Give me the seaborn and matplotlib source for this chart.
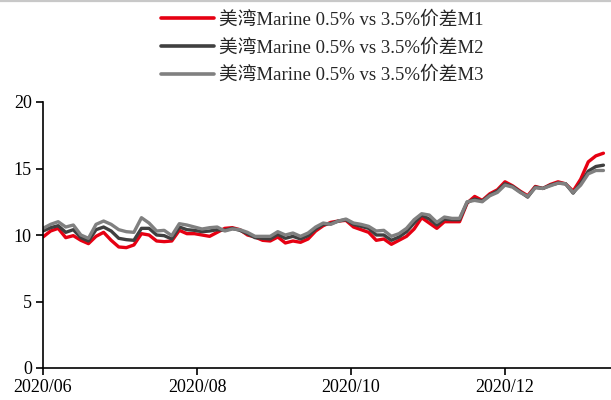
import numpy as np
import pandas as pd
import matplotlib
matplotlib.use("Agg")
import matplotlib.pyplot as plt
import matplotlib.dates as mdates
import seaborn as sns

# Sampling dates (every 3 days from 2020-06-01)
start_date = "2020-06-01"
n_points = 75
step = "3D"

# 美湾 Marine 0.5% vs 3.5% spread, three contract months
m1 = [9.85, 10.3, 10.5, 9.8, 9.95, 9.6, 9.35, 9.9, 10.2, 9.6,
      9.1, 9.05, 9.25, 10.1, 10.0, 9.55, 9.5, 9.55, 10.35, 10.1,
      10.1, 10.0, 9.9, 10.2, 10.5, 10.55, 10.4, 10.0, 9.85, 9.6,
      9.55, 9.85, 9.4, 9.55, 9.45, 9.7, 10.3, 10.7, 10.95, 11.05,
      11.1, 10.6, 10.4, 10.2, 9.6, 9.7, 9.3, 9.6, 9.9, 10.45,
      11.3, 10.9, 10.5, 11.0, 11.0, 11.0, 12.4, 12.9, 12.6, 13.1,
      13.4, 14.0, 13.7, 13.3, 12.95, 13.65, 13.5, 13.8, 14.0, 13.85,
      13.3, 14.2, 15.5, 15.95, 16.15]
m2 = [10.3, 10.55, 10.7, 10.2, 10.4, 9.8, 9.55, 10.4, 10.6, 10.3,
      9.75, 9.65, 9.6, 10.5, 10.5, 10.0, 9.95, 9.7, 10.6, 10.4,
      10.35, 10.25, 10.3, 10.4, 10.35, 10.5, 10.35, 10.1, 9.8, 9.75,
      9.7, 10.05, 9.75, 9.9, 9.7, 9.95, 10.45, 10.8, 10.85, 11.05,
      11.15, 10.8, 10.65, 10.5, 10.0, 10.0, 9.6, 9.85, 10.25, 10.9,
      11.5, 11.2, 10.75, 11.2, 11.15, 11.15, 12.45, 12.7, 12.55, 13.0,
      13.3, 13.85, 13.65, 13.25, 12.85, 13.6, 13.5, 13.75, 13.9, 13.85,
      13.15, 13.9, 14.8, 15.15, 15.25]
m3 = [10.5, 10.8, 11.0, 10.6, 10.75, 10.0, 9.75, 10.8, 11.05, 10.8,
      10.4, 10.25, 10.2, 11.3, 10.9, 10.3, 10.35, 9.95, 10.85, 10.75,
      10.6, 10.45, 10.55, 10.6, 10.3, 10.45, 10.4, 10.2, 9.9, 9.9,
      9.9, 10.25, 10.0, 10.15, 9.9, 10.15, 10.6, 10.9, 10.8, 11.05,
      11.2, 10.9, 10.8, 10.65, 10.3, 10.35, 9.9, 10.1, 10.5, 11.15,
      11.6, 11.5, 10.95, 11.35, 11.25, 11.25, 12.5, 12.6, 12.5, 12.95,
      13.2, 13.75, 13.6, 13.2, 12.9, 13.55, 13.5, 13.7, 13.9, 13.85,
      13.2, 13.75, 14.6, 14.85, 14.85]

series_names = ["美湾Marine 0.5% vs 3.5%价差M1",
                "美湾Marine 0.5% vs 3.5%价差M2",
                "美湾Marine 0.5% vs 3.5%价差M3"]
colors = ["#E60012", "#404040", "#808080"]

y_ticks = [0, 5, 10, 15, 20]

dates = pd.date_range(start_date, periods=n_points, freq=step)
frames = []
for name, vals in zip(series_names, [m1, m2, m3]):
    frames.append(pd.DataFrame({"date": dates, "value": vals, "series": name}))
df = pd.concat(frames, ignore_index=True)

sns.set_style("ticks")
plt.rcParams["font.family"] = ["Liberation Serif", "Noto Sans CJK SC"]
plt.rcParams["axes.unicode_minus"] = False

fig = plt.figure(figsize=(6.11, 4.0), dpi=100)
ax = fig.add_axes([0.0704, 0.08, 0.9296, 0.665])

sns.lineplot(data=df, x="date", y="value", hue="series",
             palette=dict(zip(series_names, colors)), linewidth=2.4,
             ax=ax, legend=False)

ax.set_ylim(0, 20)
ax.set_yticks(y_ticks)
ax.set_xlim(pd.Timestamp("2020-06-01"), pd.Timestamp("2021-01-12"))
ax.xaxis.set_major_locator(mdates.MonthLocator(bymonth=[6, 8, 10, 12]))
ax.xaxis.set_major_formatter(mdates.DateFormatter("%Y/%m"))
ax.set_xlabel("")
ax.set_ylabel("")

for side in ["top", "right"]:
    ax.spines[side].set_visible(False)
for side in ["left", "bottom"]:
    ax.spines[side].set_color("black")
    ax.spines[side].set_linewidth(1.2)
ax.tick_params(axis="both", direction="out", length=5, width=1.2,
               colors="black", labelsize=13, pad=3)

handles = [plt.Line2D([], [], color=c, linewidth=2.6) for c in colors]
fig.legend(handles, series_names, loc="upper left",
           bbox_to_anchor=(0.245, 1.0), frameon=False, fontsize=13.5,
           handlelength=2.85, handletextpad=0.25, labelspacing=0.55,
           borderaxespad=0.2)

# thin grey band along the top edge
fig.add_artist(plt.Line2D([0, 1], [0.9975, 0.9975], transform=fig.transFigure,
                          color="#c8c8c8", linewidth=1.6))

fig.savefig("out.png", dpi=100)
